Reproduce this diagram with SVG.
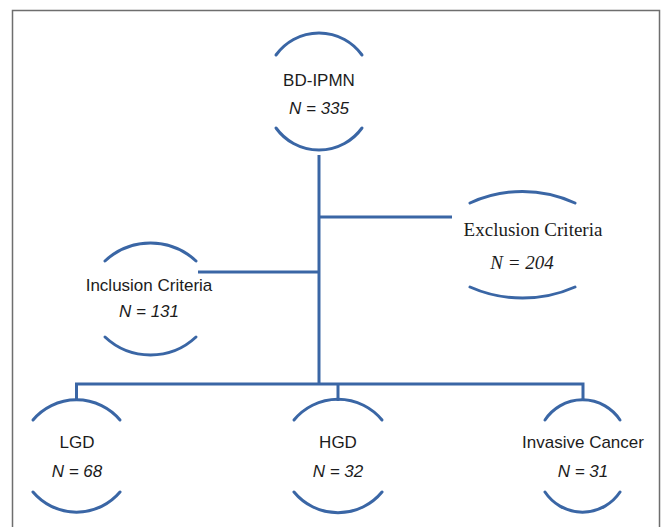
<svg xmlns="http://www.w3.org/2000/svg" width="661" height="527" viewBox="0 0 661 527">
<style>
.arc{fill:none;stroke:#3a66a5;stroke-width:3;stroke-linecap:round}
.ln{fill:none;stroke:#3a66a5;stroke-width:3}
.t{font-family:"Liberation Sans",Arial,sans-serif;font-size:17px;fill:#1c1c1c;text-anchor:middle}
.n{font-family:"Liberation Sans",Arial,sans-serif;font-size:17px;font-style:italic;fill:#1c1c1c;text-anchor:middle}
.ts{font-family:"Liberation Serif","Times New Roman",serif;font-size:19px;fill:#1c1c1c;text-anchor:middle}
.ns{font-family:"Liberation Serif","Times New Roman",serif;font-size:19px;font-style:italic;fill:#1c1c1c;text-anchor:middle}
</style>
<rect x="0" y="0" width="661" height="527" fill="#fff"/>
<rect x="12.5" y="10.5" width="647" height="530" fill="none" stroke="#6e6e6e" stroke-width="1.5"/>
<g id="connectors">
<path class="ln" d="M319 155 V384"/>
<path class="ln" d="M319 217 H452"/>
<path class="ln" d="M198 272 H319"/>
<path class="ln" d="M76.5 401 V384 H583 V401"/>
<path class="ln" d="M338 384 V401"/>
</g>
<g id="bd-ipmn">
<path class="arc" d="M276 55 A53 53 0 0 1 362 55"/>
<path class="arc" d="M276 128 A53 53 0 0 0 362 128"/>
<text class="t" x="319" y="86">BD-IPMN</text>
<text class="n" x="319" y="114">N = 335</text>
</g>
<g id="exclusion">
<path class="arc" d="M470 203 A125 125 0 0 1 575 203"/>
<path class="arc" d="M470 287 A130 130 0 0 0 575 287"/>
<text class="ts" x="533" y="236">Exclusion Criteria</text>
<text class="ns" x="522" y="269">N = 204</text>
</g>
<g id="inclusion">
<path class="arc" d="M105 261 A66.5 66.5 0 0 1 196 261"/>
<path class="arc" d="M105 337 A66.5 66.5 0 0 0 196 337"/>
<text class="t" x="149" y="291">Inclusion Criteria</text>
<text class="n" x="149" y="317">N = 131</text>
</g>
<g id="lgd">
<path class="arc" d="M33 420 A57 57 0 0 1 120 420"/>
<path class="arc" d="M33 492 A57 57 0 0 0 120 492"/>
<text class="t" x="77" y="448">LGD</text>
<text class="n" x="77" y="477">N = 68</text>
</g>
<g id="hgd">
<path class="arc" d="M294 420 A57 57 0 0 1 382 420"/>
<path class="arc" d="M294 492 A57 57 0 0 0 382 492"/>
<text class="t" x="338" y="448">HGD</text>
<text class="n" x="338" y="477">N = 32</text>
</g>
<g id="invasive">
<path class="arc" d="M545 420 A45 45 0 0 1 620 420"/>
<path class="arc" d="M545 492 A45 45 0 0 0 620 492"/>
<text class="t" x="583" y="448">Invasive Cancer</text>
<text class="n" x="583" y="477">N = 31</text>
</g>
</svg>
